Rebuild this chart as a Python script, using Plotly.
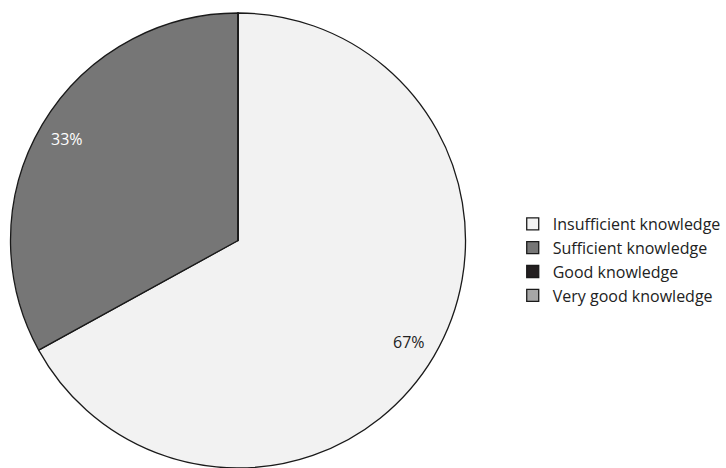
import math
import plotly.graph_objects as go

labels = ["Insufficient knowledge", "Sufficient knowledge", "Good knowledge", "Very good knowledge"]
values = [67, 33, 0, 0]
colors = ["#f2f2f2", "#767676", "#231f20", "#a6a6a6"]
text_colors = ["#222222", "#ffffff", "#ffffff", "#222222"]

dom_x = [10/726, 470/726]
dom_y = [0, 455/468]

fig = go.Figure(go.Pie(
    labels=labels,
    values=values,
    sort=False,
    direction="clockwise",
    rotation=0,
    marker=dict(colors=colors, line=dict(color="#1a1a1a", width=1.3)),
    textinfo="none",
    hoverinfo="label+percent",
    domain=dict(x=dom_x, y=dom_y),
    showlegend=True,
))

# percentage labels placed near the rim, derived from the data
W, H = 726, 468
cx = (dom_x[0] + dom_x[1]) / 2 * W
cy_frac = (dom_y[0] + dom_y[1]) / 2
r_px = min((dom_x[1] - dom_x[0]) * W, (dom_y[1] - dom_y[0]) * H) / 2
total = sum(values)
cum = 0
for v, tc in zip(values, text_colors):
    if v > 0:
        mid = (cum + v / 2) / total * 2 * math.pi
        rr = 0.88 * r_px
        x = (cx + rr * math.sin(mid)) / W
        y = cy_frac + rr * math.cos(mid) / H
        fig.add_annotation(x=x, y=y, xref="paper", yref="paper",
                           xanchor="center", yanchor="middle",
                           text=f"{round(v / total * 100)}%", showarrow=False,
                           font=dict(size=16, color=tc, family="Open Sans"))
    cum += v

fig.update_layout(
    width=W, height=H,
    margin=dict(l=0, r=0, t=0, b=0),
    paper_bgcolor="white",
    plot_bgcolor="white",
    font=dict(family="Open Sans", size=15, color="#222222"),
    legend=dict(
        x=517/726, y=1-260/468, xanchor="left", yanchor="middle",
        font=dict(size=16, family="Open Sans", color="#222222"),
        itemwidth=30,
    ),
)

fig.write_html("out.html")
